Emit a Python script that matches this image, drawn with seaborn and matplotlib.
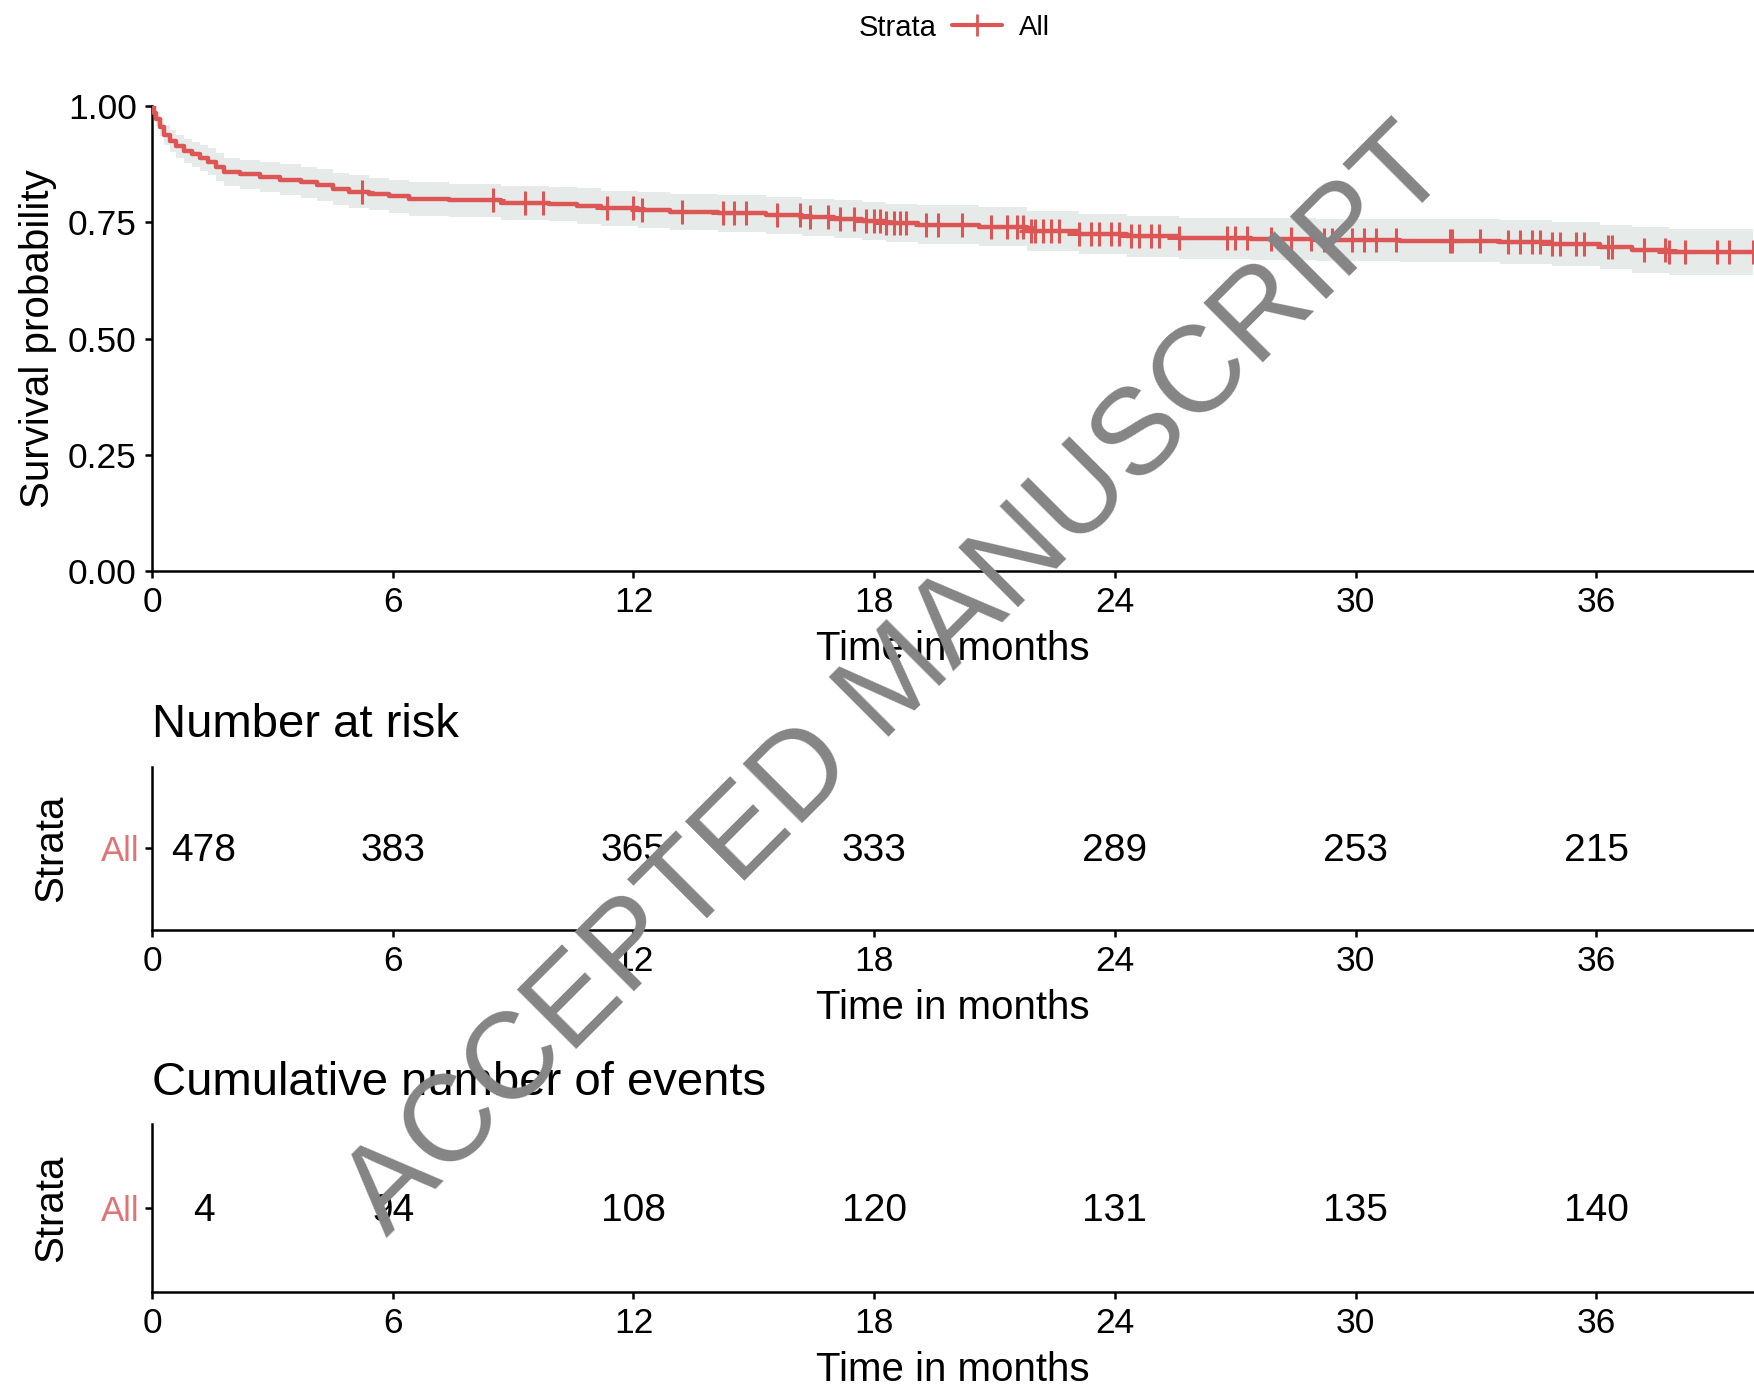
import numpy as np
import matplotlib
matplotlib.use('Agg')
from matplotlib import pyplot as plt
from matplotlib.lines import Line2D
import seaborn as sns

# Kaplan-Meier estimate (time in months)
km_time = [0, 0.05, 0.1, 0.2, 0.3, 0.45, 0.6, 0.8, 1.0, 1.2, 1.4, 1.6, 1.8, 2.2, 2.7,
           3.2, 3.7, 4.1, 4.5, 4.9, 5.4, 5.9, 6.4, 7.4, 8.7, 9.9, 10.6, 11.2, 12.1,
           12.9, 14.1, 15.3, 16.2, 17.0, 17.7, 18.3, 19.1, 20.6, 21.8, 23.1, 24.3,
           25.6, 27.4, 29.0, 31.1, 33.6, 34.9, 36.1, 36.9, 37.8]
km_surv = [1.000, 0.985, 0.972, 0.955, 0.938, 0.925, 0.913, 0.904, 0.896, 0.889, 0.880,
           0.869, 0.858, 0.853, 0.848, 0.842, 0.836, 0.830, 0.822, 0.816, 0.811, 0.806,
           0.800, 0.797, 0.792, 0.789, 0.785, 0.780, 0.776, 0.772, 0.769, 0.765, 0.761,
           0.757, 0.753, 0.749, 0.745, 0.740, 0.732, 0.724, 0.720, 0.716, 0.714, 0.712,
           0.710, 0.707, 0.703, 0.697, 0.690, 0.686]
km_lower = [1.000, 0.974, 0.957, 0.936, 0.916, 0.901, 0.888, 0.878, 0.869, 0.861, 0.851,
            0.839, 0.827, 0.821, 0.816, 0.809, 0.803, 0.796, 0.788, 0.781, 0.776, 0.770,
            0.764, 0.761, 0.755, 0.752, 0.747, 0.742, 0.737, 0.733, 0.729, 0.725, 0.721,
            0.716, 0.712, 0.708, 0.703, 0.698, 0.689, 0.681, 0.676, 0.672, 0.669, 0.667,
            0.664, 0.660, 0.656, 0.649, 0.641, 0.636]
km_upper = [1.000, 0.996, 0.987, 0.974, 0.960, 0.949, 0.938, 0.930, 0.923, 0.917, 0.909,
            0.899, 0.889, 0.885, 0.880, 0.875, 0.869, 0.864, 0.856, 0.851, 0.846, 0.842,
            0.836, 0.833, 0.829, 0.826, 0.823, 0.818, 0.815, 0.811, 0.809, 0.805, 0.801,
            0.798, 0.794, 0.790, 0.787, 0.782, 0.775, 0.767, 0.764, 0.760, 0.759, 0.757,
            0.756, 0.754, 0.750, 0.745, 0.739, 0.736]

# censoring times (+ marks)
censor_time = [5.23, 8.5, 9.3, 9.75, 11.33, 12.0, 12.2, 13.2, 14.24, 14.5, 14.8, 15.57,
               16.15, 16.4, 16.85, 17.15, 17.5, 17.8, 18.0, 18.15, 18.3, 18.5, 18.65,
               18.8, 19.3, 19.6, 20.2, 20.9, 21.3, 21.55, 21.7, 21.9, 22.0, 22.2, 22.4,
               22.6, 23.1, 23.4, 23.6, 23.9, 24.1, 24.4, 24.6, 24.9, 25.1, 25.6, 26.8,
               27.0, 27.3, 27.9, 28.4, 28.9, 29.2, 29.4, 29.9, 30.2, 30.5, 31.0, 32.35,
               32.4, 33.1, 33.8, 34.1, 34.4, 34.6, 34.9, 35.1, 35.5, 35.7, 36.3, 36.4,
               37.2, 37.7, 37.8, 38.2, 39.0, 39.3, 39.9]

# table values
table_times = [0, 6, 12, 18, 24, 30, 36]
n_at_risk = [478, 383, 365, 333, 289, 253, 215]
cum_events = [4, 94, 108, 120, 131, 135, 140]
strata = ['All']

line_col = '#DC5656'
label_col = '#E07375'
band_col = '#e6ebe9'

sns.set_theme(style='ticks')
plt.rcParams['font.family'] = ['Liberation Sans', 'DejaVu Sans']
plt.rcParams['axes.linewidth'] = 1.8
plt.rcParams['xtick.major.width'] = 1.8
plt.rcParams['ytick.major.width'] = 1.8
plt.rcParams['xtick.major.size'] = 5
plt.rcParams['ytick.major.size'] = 5
plt.rcParams['axes.edgecolor'] = 'black'
plt.rcParams['text.color'] = 'black'
plt.rcParams['axes.labelcolor'] = 'black'

fig = plt.figure(figsize=(17.54, 13.88), dpi=100)
ax = fig.add_axes([0.0867, 0.5886, 0.9133, 0.335])
ax_risk = fig.add_axes([0.0867, 0.330, 0.9133, 0.1174])
ax_ev = fig.add_axes([0.0867, 0.0692, 0.9133, 0.1208])

x_max = 39.93
t_end = max(censor_time)

#%% survival curve
ax.fill_between(km_time + [t_end], km_lower + [km_lower[-1]], km_upper + [km_upper[-1]],
                step='post', color=band_col, linewidth=0, zorder=1)
sns.lineplot(x=km_time + [t_end], y=km_surv + [km_surv[-1]], drawstyle='steps-post',
             color=line_col, linewidth=3.2, ax=ax, zorder=3)
idx = np.searchsorted(km_time, censor_time, side='right') - 1
censor_surv = np.array(km_surv)[idx]
sns.scatterplot(x=censor_time, y=censor_surv, marker='+', s=290, color=line_col,
                linewidth=2.2, ax=ax, zorder=4)
ax.set_xlim(0, x_max)
ax.set_ylim(0, 1)
ax.set_xticks(table_times)
ax.set_yticks([0, 0.25, 0.5, 0.75, 1.0])
ax.set_yticklabels(['0.00', '0.25', '0.50', '0.75', '1.00'])
ax.set_xlabel('Time in months', fontsize=29, labelpad=8)
ax.set_ylabel('Survival probability', fontsize=29, labelpad=8)
ax.tick_params(labelsize=25.5, colors='black', pad=6)
ax.margins(0)

handle = Line2D([0], [0], color=line_col, lw=3, marker='+', markersize=16, mew=2)
fig.legend([handle], ['All'], loc='center left', bbox_to_anchor=(0.5285, 0.98),
           frameon=False, fontsize=20, handlelength=1.8, handletextpad=0.6)
fig.text(0.534, 0.98, 'Strata', ha='right', va='center', fontsize=21)

#%% tables
def draw_table(axt, values, title):
    for t, v in zip(table_times, values):
        off = 37 if t == 0 else 0
        axt.annotate(str(v), xy=(t, 1), xytext=(off, -2), textcoords='offset points',
                     ha='center', va='center', fontsize=28, color='black')
    axt.set_xlim(0, x_max)
    axt.set_ylim(0.5, 1.5)
    axt.set_xticks(table_times)
    axt.set_yticks([1])
    axt.set_yticklabels(strata)
    for lab in axt.get_yticklabels():
        lab.set_color(label_col)
        lab.set_fontsize(25)
    axt.tick_params(axis='x', labelsize=25.5, colors='black', pad=6)
    axt.tick_params(axis='y', pad=4, color='black')
    axt.set_xlabel('Time in months', fontsize=29, labelpad=8)
    axt.set_ylabel('Strata', fontsize=29, labelpad=22)
    axt.annotate(title, xy=(0, 1), xycoords='axes fraction', xytext=(0, 30),
                 textcoords='offset points', ha='left', va='center', fontsize=34)

draw_table(ax_risk, n_at_risk, 'Number at risk')
draw_table(ax_ev, cum_events, 'Cumulative number of events')

for a in (ax, ax_risk, ax_ev):
    sns.despine(ax=a)

# watermark
fig.text(0.512, 0.508, 'ACCEPTED MANUSCRIPT', rotation=45, ha='center', va='center',
         rotation_mode='anchor', fontsize=88, color='#858585', zorder=10)

plt.savefig('out.png', dpi=100)
